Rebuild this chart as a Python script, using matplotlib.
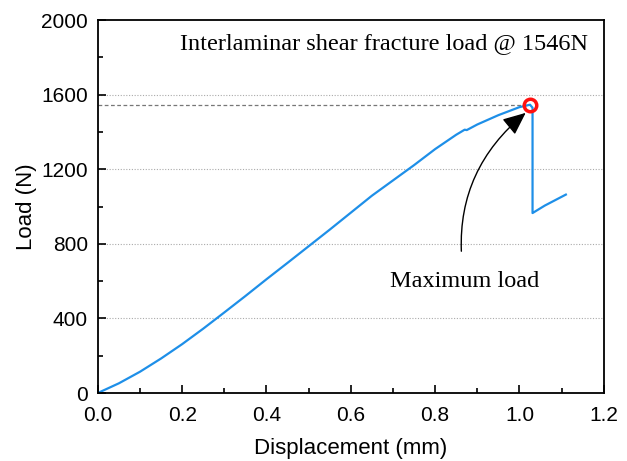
import numpy as np
import matplotlib
matplotlib.use("Agg")
import matplotlib.pyplot as plt
from matplotlib.ticker import MultipleLocator

# displacement (mm) and load (N)
disp = [0.0, 0.05, 0.1, 0.15, 0.2, 0.25, 0.3, 0.35, 0.4, 0.45, 0.5, 0.55, 0.6,
        0.65, 0.7, 0.75, 0.8, 0.85, 0.87, 0.875, 0.9, 0.95, 1.0, 1.025,
        1.031, 1.031, 1.06, 1.11]
load = [0, 52, 114, 185, 262, 345, 432, 520, 610, 698, 787, 876, 967,
        1058, 1140, 1222, 1308, 1385, 1412, 1410, 1440, 1490, 1533, 1546,
        1530, 965, 1005, 1064]
peak_x = 1.025
peak_load = 1546
grid_levels = [400, 800, 1200, 1600]

plt.rcParams['font.family'] = ['Liberation Sans', 'DejaVu Sans']

fig = plt.figure(figsize=(6.27, 4.61), dpi=100)
ax = fig.add_axes([0.156, 0.1475, 0.807, 0.809])

for g in grid_levels:
    ax.axhline(g, color='#aaaaaa', linestyle=(0, (1, 1.5)), linewidth=0.8, zorder=0)
ax.plot([0, peak_x], [peak_load, peak_load], color='#777777',
        linestyle=(0, (3, 2)), linewidth=0.9, zorder=1)

ax.plot(disp, load, color='#1e8fe8', linewidth=1.6, zorder=2)
ax.plot([peak_x], [peak_load], marker='o', markersize=9, markerfacecolor='none',
        markeredgecolor='#ff1010', markeredgewidth=2.5, zorder=3)

ax.annotate('Maximum load', xy=(peak_x, peak_load - 25), xytext=(0.87, 600),
            ha='center', va='center', fontsize=17.5, family='Liberation Serif',
            arrowprops=dict(arrowstyle='-|>,head_length=0.8,head_width=0.35',
                            color='black', lw=1.0,
                            connectionstyle='arc3,rad=-0.3',
                            shrinkA=12, shrinkB=4))

ax.text(0.968, 0.965, 'Interlaminar shear fracture load @ 1546N',
        transform=ax.transAxes, ha='right', va='top', fontsize=17.5,
        family='Liberation Serif')

ax.set_xlim(0, 1.2)
ax.set_ylim(0, 2000)
ax.xaxis.set_major_locator(MultipleLocator(0.2))
ax.xaxis.set_minor_locator(MultipleLocator(0.1))
ax.yaxis.set_major_locator(MultipleLocator(400))
ax.yaxis.set_minor_locator(MultipleLocator(200))
ax.xaxis.set_major_formatter(plt.FuncFormatter(lambda v, p: '%.1f' % v))
ax.tick_params(which='both', direction='in', top=False, right=False,
               labelsize=15, width=1.2)
ax.tick_params(axis='x', pad=9)
ax.tick_params(axis='y', pad=7)
ax.tick_params(which='major', length=6)
ax.tick_params(which='minor', length=3.5)
for s in ax.spines.values():
    s.set_linewidth(1.3)

ax.set_xlabel('Displacement (mm)', fontsize=16, labelpad=10)
ax.set_ylabel('Load (N)', fontsize=16, labelpad=3)

fig.savefig('out.png', dpi=100)
